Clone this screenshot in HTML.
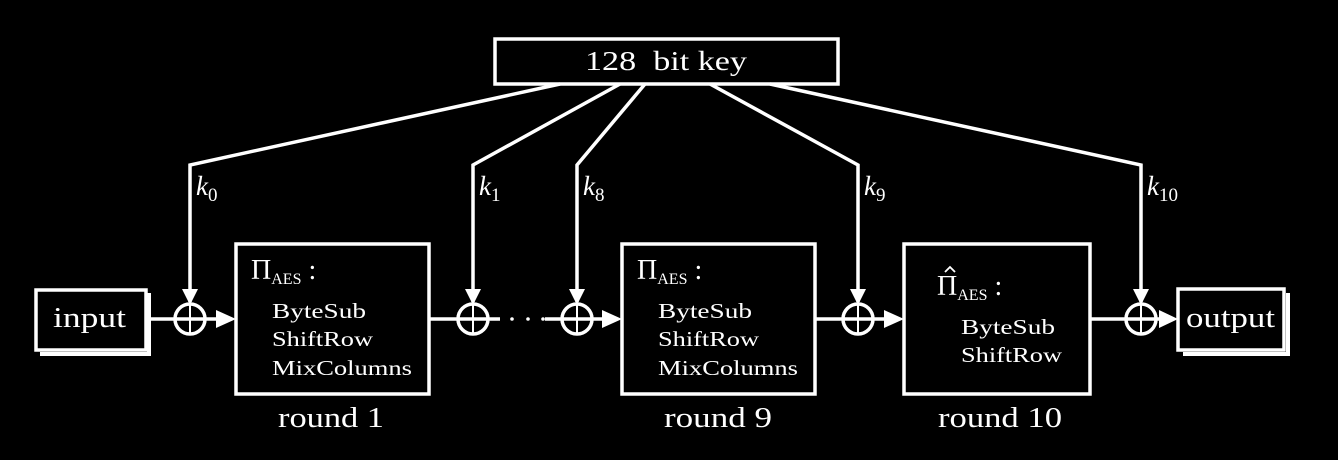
<!DOCTYPE html>
<html><head><style>body{margin:0;background:#000}svg{display:block}text{fill:#fff;font-family:"Liberation Serif",serif}</style></head><body>
<svg width="1338" height="460" viewBox="0 0 1338 460">
<g stroke="#fff" stroke-width="3.5" fill="none">
<rect x="495" y="39" width="343" height="45"/>
<polyline points="560,84 190,165 190,302"/>
<polyline points="620,84 473,165 473,302"/>
<polyline points="645,84 577,165 577,302"/>
<polyline points="710,84 858,165 858,302"/>
<polyline points="770,84 1141,165 1141,302"/>
<rect x="36" y="290" width="110" height="60"/>
<path d="M149,293 V354 H40" stroke-width="4"/>
<rect x="236" y="244" width="193" height="150"/>
<rect x="622" y="244" width="193" height="150"/>
<rect x="904" y="244" width="186" height="150"/>
<rect x="1178" y="289" width="106" height="61"/>
<path d="M1288,293 V354 H1183" stroke-width="4"/>
<line x1="146" y1="319" x2="222" y2="319"/>
<line x1="429" y1="319" x2="500" y2="319"/>
<line x1="545" y1="319" x2="608" y2="319"/>
<line x1="815" y1="319" x2="890" y2="319"/>
<line x1="1090" y1="319" x2="1165" y2="319"/>
<circle cx="190" cy="319" r="15"/><circle cx="473" cy="319" r="15"/><circle cx="577" cy="319" r="15"/><circle cx="858" cy="319" r="15"/><circle cx="1141" cy="319" r="15"/>
<path d="M175,319H205M190,304V334M458,319H488M473,304V334M562,319H592M577,304V334M843,319H873M858,304V334M1126,319H1156M1141,304V334" stroke-width="2"/>
<path d="M945,272 L950,267 L955,272" stroke-width="1.8"/>
</g>
<g fill="#fff">
<path d="M182,289 L198,289 L190,305z"/><path d="M465,289 L481,289 L473,305z"/><path d="M569,289 L585,289 L577,305z"/><path d="M850,289 L866,289 L858,305z"/><path d="M1133,289 L1149,289 L1141,305z"/>
<path d="M216,310 L236,319 L216,328z"/><path d="M602,310 L622,319 L602,328z"/><path d="M884,310 L904,319 L884,328z"/><path d="M1159,310 L1178,319 L1159,328z"/>
<circle cx="512" cy="319" r="1.8"/><circle cx="528" cy="319" r="1.8"/><circle cx="543" cy="319" r="1.8"/>
</g>
<text x="585" y="70" font-size="27" textLength="162" lengthAdjust="spacingAndGlyphs">128&#160;&#160;bit key</text>
<text x="196" y="195" font-size="27" font-style="italic">k<tspan font-size="19" font-style="normal" dy="6">0</tspan></text>
<text x="479" y="195" font-size="27" font-style="italic">k<tspan font-size="19" font-style="normal" dy="6">1</tspan></text>
<text x="583" y="195" font-size="27" font-style="italic">k<tspan font-size="19" font-style="normal" dy="6">8</tspan></text>
<text x="864" y="195" font-size="27" font-style="italic">k<tspan font-size="19" font-style="normal" dy="6">9</tspan></text>
<text x="1147" y="195" font-size="27" font-style="italic">k<tspan font-size="19" font-style="normal" dy="6">10</tspan></text>
<text x="53" y="327" font-size="28" textLength="73" lengthAdjust="spacingAndGlyphs">input</text>
<text x="1186" y="327" font-size="28" textLength="89" lengthAdjust="spacingAndGlyphs">output</text>
<g font-size="28"><text x="251" y="279">Π<tspan font-size="16" dy="5">AES</tspan><tspan dy="-5"> :</tspan></text>
<text x="637" y="279">Π<tspan font-size="16" dy="5">AES</tspan><tspan dy="-5"> :</tspan></text>
<text x="937" y="295">Π<tspan font-size="16" dy="5">AES</tspan><tspan dy="-5"> :</tspan></text></g>
<g font-size="21"><text x="272" y="318" textLength="94" lengthAdjust="spacingAndGlyphs">ByteSub</text><text x="272" y="346" textLength="101" lengthAdjust="spacingAndGlyphs">ShiftRow</text><text x="272" y="375" textLength="140" lengthAdjust="spacingAndGlyphs">MixColumns</text>
<text x="658" y="318" textLength="94" lengthAdjust="spacingAndGlyphs">ByteSub</text><text x="658" y="346" textLength="101" lengthAdjust="spacingAndGlyphs">ShiftRow</text><text x="658" y="375" textLength="140" lengthAdjust="spacingAndGlyphs">MixColumns</text>
<text x="961" y="334" textLength="94" lengthAdjust="spacingAndGlyphs">ByteSub</text><text x="961" y="362" textLength="101" lengthAdjust="spacingAndGlyphs">ShiftRow</text></g>
<g font-size="28"><text x="278" y="427" textLength="106" lengthAdjust="spacingAndGlyphs">round 1</text><text x="664" y="427" textLength="108" lengthAdjust="spacingAndGlyphs">round 9</text><text x="938" y="427" textLength="124" lengthAdjust="spacingAndGlyphs">round 10</text></g>
</svg></body></html>
